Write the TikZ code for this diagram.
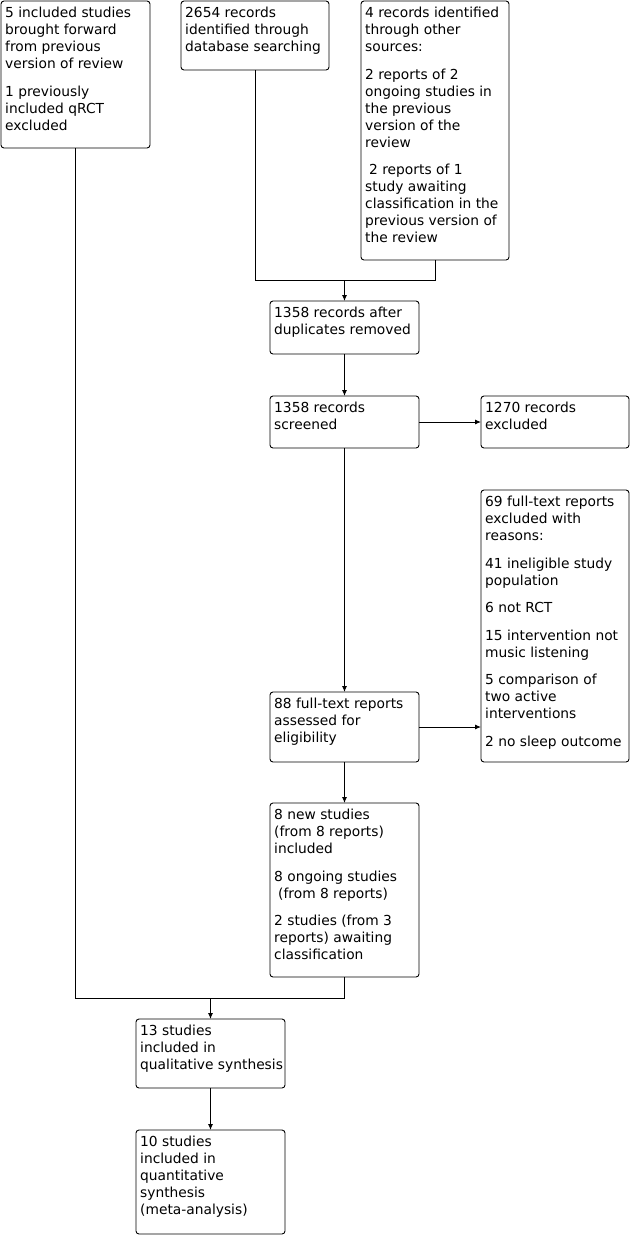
\documentclass[tikz,border=0pt]{standalone}
\usepackage{fontspec}
\setmainfont{DejaVu Sans}
\usetikzlibrary{arrows.meta}
\tikzset{
  box/.style={draw, line width=0.9pt, rounded corners=3pt, inner sep=0, outer sep=0},
  txt/.style={font=\fontsize{13.8}{17}\selectfont, align=left, inner sep=0, execute at begin node=\strut},
  conn/.style={line width=0.9pt},
  arr/.style={line width=0.9pt, -{Latex[length=6pt,width=5pt]}},
}
\newcommand\bx[6]{%
  \node[box, minimum width={#4-#2}, minimum height={#5-#3}, anchor=north west] (#1) at (#2,#3) {};
  \node[txt, anchor=north west] (#1t) at (#2+4,#3+6) {#6};}
\begin{document}
\begin{tikzpicture}[x=1pt,y=-1pt]
\useasboundingbox (0,0) rectangle (632,1235);
\bx{a}{1}{1}{150}{148}{5 included studies\\brought forward\\from previous\\version of review\\[10.5pt]1 previously\\included qRCT\\excluded}
\bx{b}{181}{1}{329}{70}{2654 records\\identified through\\database searching}
\bx{c}{361}{1}{509}{260}{4 records identified\\through other\\sources:\\[10.5pt]2 reports of 2\\ongoing studies in\\the previous\\version of the\\review\\[10.5pt]\hspace*{4pt}2 reports of 1\\study awaiting\\classification in the\\previous version of\\the review}
\bx{d}{270}{301}{419}{354}{1358 records after\\duplicates removed}
\bx{e}{270}{396}{419}{448}{1358 records\\screened}
\bx{f}{481}{396}{629}{448}{1270 records\\excluded}
\bx{g}{481}{490}{629}{762}{69 full-text reports\\excluded with\\reasons:\\[10.5pt]41 ineligible study\\population\\[10.5pt]6 not RCT\\[10.5pt]15 intervention not\\music listening\\[10.5pt]5 comparison of\\two active\\interventions\\[10.5pt]2 no sleep outcome}
\bx{h}{270}{692}{419}{762}{88 full-text reports\\assessed for\\eligibility}
\bx{i}{270}{803}{419}{977}{8 new studies\\(from 8 reports)\\included\\[10.5pt]8 ongoing studies\\\hspace*{4pt}(from 8 reports)\\[10.5pt]2 studies (from 3\\reports) awaiting\\classification}
\bx{j}{136}{1019}{285}{1088}{13 studies\\included in\\qualitative synthesis}
\bx{k}{136}{1130}{285}{1234}{10 studies\\included in\\quantitative\\synthesis\\(meta-analysis)}
% connectors
\coordinate (j1) at (d.north |- 0,280);
\draw[conn] (b.south) |- (c.south |- j1) -- (c.south);
\draw[arr] (j1) -- (d.north);
\draw[arr] (d.south) -- (e.north);
\draw[arr] (e.east) -- (f.west);
\draw[arr] (e.south) -- (h.north);
\draw[arr] (h.east) -- (h.east -| g.west);
\draw[arr] (h.south) -- (i.north);
\coordinate (j2) at (j.north |- 0,998);
\draw[conn] (a.south) |- (i.south |- j2) -- (i.south);
\draw[arr] (j2) -- (j.north);
\draw[arr] (j.south) -- (k.north);
\end{tikzpicture}
\end{document}
